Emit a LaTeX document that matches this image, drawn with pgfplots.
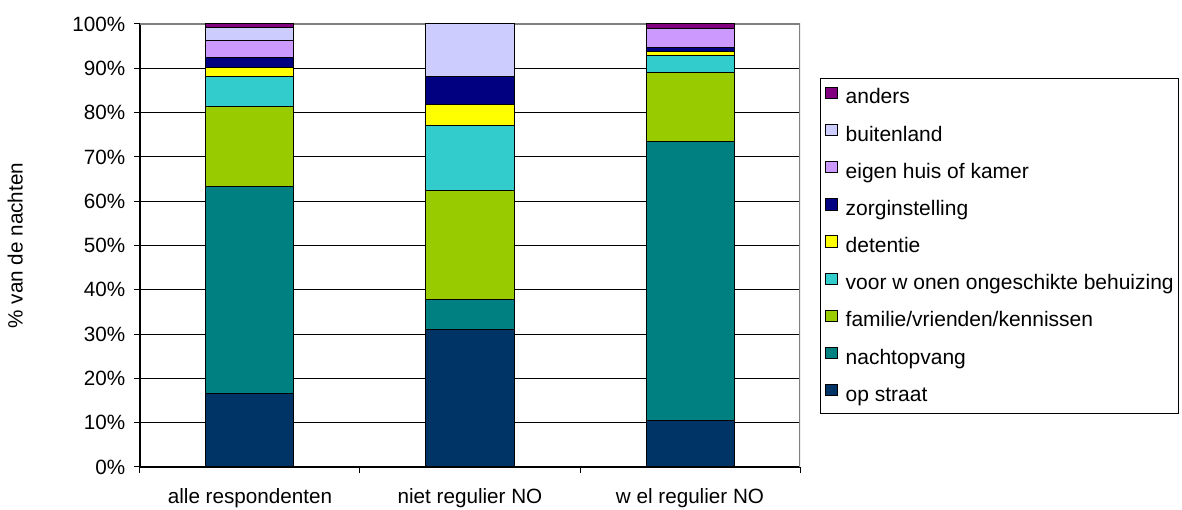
\documentclass[border=0pt]{standalone}
\usepackage{pgfplots}
\pgfplotsset{compat=1.18}
\usepackage{fontspec}
\setmainfont{Liberation Sans}
\definecolor{cStraat}{HTML}{003366}
\definecolor{cNacht}{HTML}{008080}
\definecolor{cFam}{HTML}{99CC00}
\definecolor{cVoor}{HTML}{33CCCC}
\definecolor{cDet}{HTML}{FFFF00}
\definecolor{cZorg}{HTML}{000080}
\definecolor{cEigen}{HTML}{CC99FF}
\definecolor{cBuiten}{HTML}{CCCCFF}
\definecolor{cAnders}{HTML}{800080}
\begin{document}
\begin{tikzpicture}[x=0.75pt,y=0.75pt]
\useasboundingbox (-140,-43) rectangle (1042,467);
\begin{axis}[
  at={(0,0)}, anchor=south west,
  scale only axis, width=495pt, height=332.25pt,
  ybar stacked, bar width=66pt,
  xmin=-0.5, xmax=2.5, ymin=0, ymax=100,
  axis x line*=bottom, axis y line*=left,
  axis line style={black, line width=0.9pt},
  ytick={0,10,...,100},
  yticklabel={\pgfmathprintnumber{\tick}\%},
  /pgf/number format/assume math mode=true,
  ymajorgrids, grid style={black, line width=0.75pt},
  tick align=outside, major tick length=4.5pt,
  tick style={black, line width=0.75pt},
  xtick={-0.5,0.5,1.5,2.5}, xticklabels={},
  extra x ticks={0,1,2},
  extra x tick labels={alle respondenten, niet regulier NO, w el regulier NO},
  extra x tick style={major tick length=0pt, xticklabel style={yshift=-12.5pt}},
  tick label style={font=\fontsize{15.5}{17}\selectfont},
  yticklabel style={xshift=-3pt},
  ylabel={\% van de nachten},
  ylabel style={at={(axis description cs:-0.189,0.5)}, anchor=center, font=\fontsize{15.5}{17}\selectfont},
  every axis plot/.append style={draw=black, line width=0.75pt},
  area legend,
  legend image code/.code={\draw[#1, draw=black, line width=0.75pt] (0pt,0pt) rectangle (8.5pt,8.5pt);},
  reverse legend,
  legend cell align=left,
  legend style={at={(1.0303,0.878)}, anchor=north west, draw=black, line width=1pt,
    font=\fontsize{15.75}{17}\selectfont, row sep=12.0pt, inner xsep=3.5pt, inner ysep=6pt,
    nodes={inner sep=0pt, text height=11pt, text depth=3pt},
    /tikz/every odd column/.append style={column sep=6pt}},
]
\addplot[fill=cStraat] coordinates {(0,16.7) (1,31.1) (2,10.4)};
\addlegendentry{op straat}
\addplot[fill=cNacht] coordinates {(0,46.6) (1,6.7) (2,63.0)};
\addlegendentry{nachtopvang}
\addplot[fill=cFam] coordinates {(0,18.0) (1,24.7) (2,15.6)};
\addlegendentry{familie/vrienden/kennissen}
\addplot[fill=cVoor] coordinates {(0,6.8) (1,14.5) (2,4.0)};
\addlegendentry{voor w onen ongeschikte behuizing}
\addplot[fill=cDet] coordinates {(0,2.1) (1,4.9) (2,0.8)};
\addlegendentry{detentie}
\addplot[fill=cZorg] coordinates {(0,2.3) (1,6.2) (2,0.9)};
\addlegendentry{zorginstelling}
\addplot[fill=cEigen] coordinates {(0,3.7) (1,0) (2,4.3)};
\addlegendentry{eigen huis of kamer}
\addplot[fill=cBuiten] coordinates {(0,3.1) (1,11.9) (2,0)};
\addlegendentry{buitenland}
\addplot[fill=cAnders] coordinates {(0,0.7) (1,0) (2,1.0)};
\addlegendentry{anders}
\draw[gray, line width=0.9pt] (rel axis cs:0,1) -- (rel axis cs:1,1) -- (rel axis cs:1,0);
\end{axis}
\end{tikzpicture}
\end{document}
